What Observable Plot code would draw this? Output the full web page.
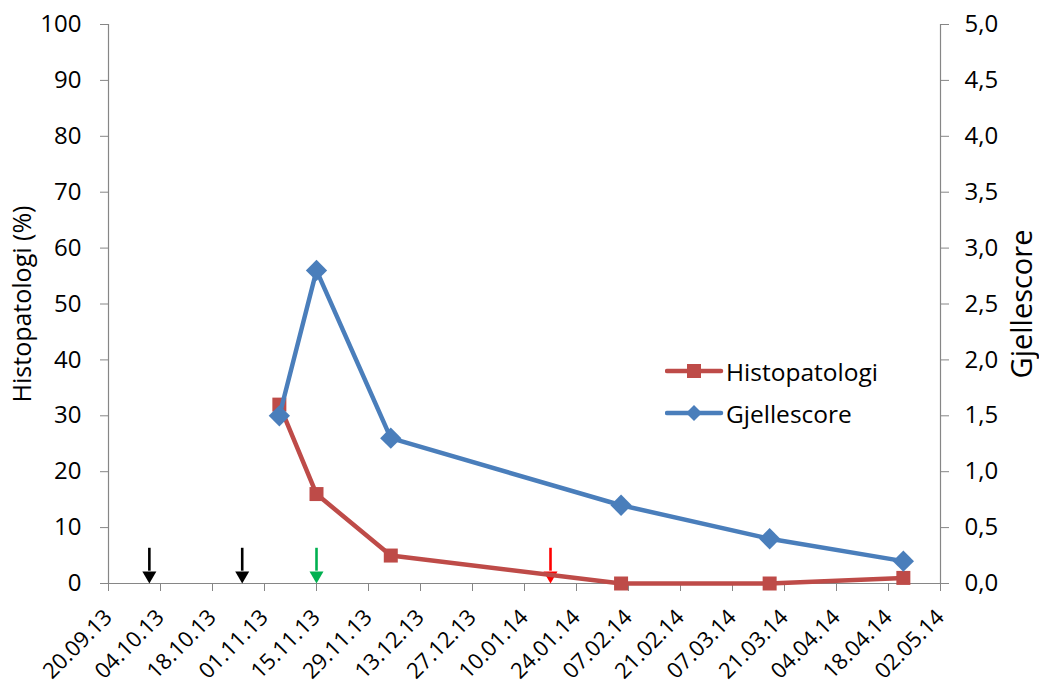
<!DOCTYPE html>
<html>
<head>
<meta charset="utf-8">
<script src="https://cdn.jsdelivr.net/npm/d3@7"></script>
<script src="https://cdn.jsdelivr.net/npm/@observablehq/plot@0.6"></script>
<style>
  html, body { margin: 0; padding: 0; background: #fff; }
  #wrap { position: relative; width: 1039px; height: 691px; font-family: "Open Sans", sans-serif; }
  #legend { position: absolute; left: 665px; top: 350px; font-size: 24.5px; color: #000; }
  #legend .item { display: flex; align-items: center; height: 42px; }
  #legend svg { margin-right: 1px; }
</style>
</head>
<body>
<div id="wrap"><div id="chart"></div><div id="legend"></div></div>
<script>
// ---- data ----
const sampleDates = ["2013-11-05", "2013-11-15", "2013-12-05", "2014-02-05", "2014-03-17", "2014-04-22"];
const histopatologi = [32, 16, 5, 0, 0, 1];          // %
const gjellescore = [1.5, 2.8, 1.3, 0.7, 0.4, 0.2];  // score 0-5
const arrowDates = ["2013-10-01", "2013-10-26", "2013-11-15", "2014-01-17"];
const xTickLabels = ["20.09.13", "04.10.13", "18.10.13", "01.11.13", "15.11.13", "29.11.13", "13.12.13",
  "27.12.13", "10.01.14", "24.01.14", "07.02.14", "21.02.14", "07.03.14", "21.03.14", "04.04.14",
  "18.04.14", "02.05.14"];
const leftTicks = [0, 10, 20, 30, 40, 50, 60, 70, 80, 90, 100];
const rightTickLabels = ["0,0", "0,5", "1,0", "1,5", "2,0", "2,5", "3,0", "3,5", "4,0", "4,5", "5,0"];
const seriesNames = ["Histopatologi", "Gjellescore"];
const leftTitle = "Histopatologi (%)";
const rightTitle = "Gjellescore";

// ---- styles ----
const RED = "#BE4B48", BLUE = "#4A7EBB", AXIS = "#868686";
const arrowColors = ["#000000", "#000000", "#00B050", "#FF0000"];

const parse = d3.utcParse("%Y-%m-%d");
const parseTick = d3.utcParse("%d.%m.%y");
const xTicks = xTickLabels.map(parseTick);
const rows = sampleDates.map((d, i) => ({date: parse(d), histo: histopatologi[i], gjelle: gjellescore[i]}));
const arrows = arrowDates.map((d, i) => ({date: parse(d), color: arrowColors[i]}));
const scoreToPct = 100 / 5;

const chart = Plot.plot({
  width: 1039, height: 691,
  marginLeft: 108, marginRight: 99, marginTop: 24, marginBottom: 108,
  style: {fontFamily: "Open Sans, sans-serif", fontSize: "23px", color: "#000", background: "#fff"},
  x: {type: "utc", domain: [xTicks[0], xTicks[xTicks.length - 1]]},
  y: {domain: [0, 100]},
  color: {type: "identity"},
  marks: [
    Plot.axisY({ticks: leftTicks, tickSize: 8, tickPadding: 19, stroke: AXIS, fill: "#000", fontSize: 24, label: null}),
    Plot.axisY({anchor: "right", ticks: leftTicks, tickSize: 8, tickPadding: 16, stroke: AXIS, fill: "#000", fontSize: 24,
      tickFormat: d => rightTickLabels[leftTicks.indexOf(d)], label: null}),
    Plot.axisX({ticks: xTicks, tickFormat: d => xTickLabels[xTicks.findIndex(t => +t === +d)],
      tickRotate: -45, tickSize: 8, tickPadding: 22, stroke: AXIS, fill: "#000", fontSize: 22, label: null}),
    // axis titles (centred on the plot frame)
    Plot.text([leftTitle], {frameAnchor: "left", text: d => d, rotate: -90, dx: -86, dy: 0,
      fontSize: 25, textAnchor: "middle", lineAnchor: "middle", fill: "#000"}),
    Plot.text([rightTitle], {frameAnchor: "right", text: d => d, rotate: -90, dx: 82, dy: 0,
      fontSize: 29, textAnchor: "middle", lineAnchor: "middle", fill: "#000"}),
    Plot.ruleY([0], {stroke: AXIS, strokeWidth: 1.2}),
    Plot.ruleX([xTicks[0]], {stroke: AXIS, strokeWidth: 1.2}),
    Plot.ruleX([xTicks[xTicks.length - 1]], {stroke: AXIS, strokeWidth: 1.2}),
    // treatment arrows
    Plot.ruleX(arrows, {x: "date", y1: () => 2.2, y2: () => 6.3, stroke: "color", strokeWidth: 2.6}),
    Plot.dot(arrows, {x: "date", y: () => 1.43, symbol: "triangle", rotate: 180, r: 5.2, fill: "color", stroke: "none"}),
    // Histopatologi
    Plot.line(rows, {x: "date", y: "histo", stroke: RED, strokeWidth: 4.5}),
    Plot.dot(rows, {x: "date", y: "histo", symbol: "square", r: 7.9, fill: RED, stroke: "none"}),
    // Gjellescore (right axis, scaled onto left axis range)
    Plot.line(rows, {x: "date", y: d => d.gjelle * scoreToPct, stroke: BLUE, strokeWidth: 4.5}),
    Plot.dot(rows, {x: "date", y: d => d.gjelle * scoreToPct, symbol: "diamond2", r: 9.6, fill: BLUE, stroke: "none"})
  ]
});
document.getElementById("chart").append(chart);

// legend
const legend = document.getElementById("legend");
const swatches = [
  `<svg width="60" height="20"><line x1="2" y1="10" x2="56" y2="10" stroke="${RED}" stroke-width="4.5" stroke-linecap="round"/><rect x="22" y="3" width="14" height="14" fill="${RED}"/></svg>`,
  `<svg width="60" height="20"><line x1="2" y1="10" x2="56" y2="10" stroke="${BLUE}" stroke-width="4.5" stroke-linecap="round"/><path d="M29,2 L37,10 L29,18 L21,10 Z" fill="${BLUE}"/></svg>`
];
seriesNames.forEach((name, i) => {
  const div = document.createElement("div");
  div.className = "item";
  div.innerHTML = swatches[i] + `<span>${name}</span>`;
  legend.append(div);
});
</script>
</body>
</html>
